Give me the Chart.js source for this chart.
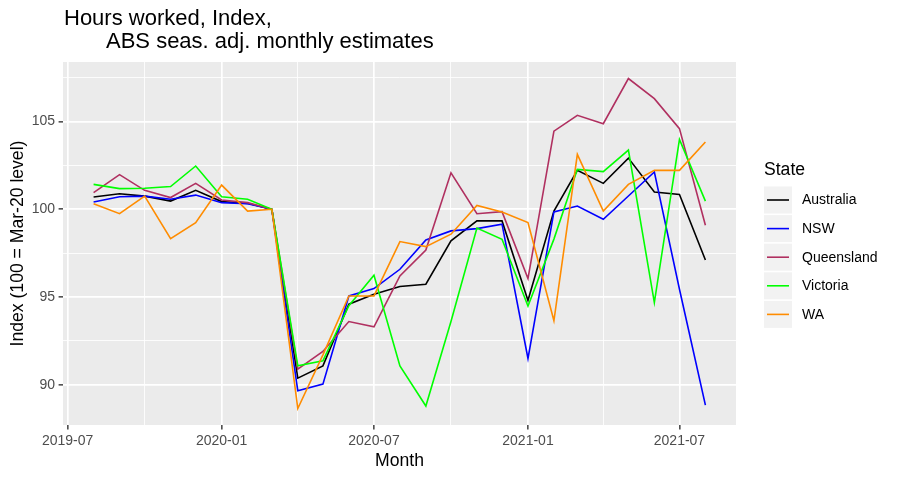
<!DOCTYPE html>
<html>
<head>
<meta charset="utf-8">
<script src="https://cdn.jsdelivr.net/npm/chart.js@4"></script>
<style>
  body { margin: 0; background: #fff; }
  #wrap { width: 899px; height: 479px; }
</style>
</head>
<body>
<div id="wrap"><canvas id="chart" width="899" height="479"></canvas></div>
<script>
// 月份（每月第一天）
const months = ['2019-08', '2019-09', '2019-10', '2019-11', '2019-12', '2020-01', '2020-02', '2020-03',
    '2020-04', '2020-05', '2020-06', '2020-07', '2020-08', '2020-09', '2020-10', '2020-11', '2020-12',
    '2021-01', '2021-02', '2021-03', '2021-04', '2021-05', '2021-06', '2021-07', '2021-08'];

// 各州指数 (100 = Mar-20)
const australia = [100.70, 100.89, 100.75, 100.47, 101.08, 100.44, 100.34, 100.00, 90.37, 91.07, 94.59, 95.16,
    95.60, 95.73, 98.20, 99.34, 99.34, 94.80, 99.90, 102.22, 101.48, 102.92, 100.99, 100.85, 97.11];
const nsw = [100.42, 100.72, 100.75, 100.57, 100.81, 100.38, 100.32, 100.00, 89.65, 90.03, 95.06, 95.48,
    96.58, 98.25, 98.77, 98.90, 99.15, 91.49, 99.85, 100.19, 99.43, 100.76, 102.13, 95.44, 88.83];
const queensland = [100.95, 101.98, 101.08, 100.67, 101.48, 100.53, 100.38, 100.00, 90.88, 91.89, 93.60, 93.30,
    96.20, 97.68, 102.08, 99.75, 99.87, 96.05, 104.46, 105.36, 104.88, 107.46, 106.31, 104.60, 99.09];
const victoria = [101.42, 101.18, 101.20, 101.30, 102.47, 100.72, 100.57, 100.00, 91.07, 91.36, 94.50, 96.24,
    91.07, 88.78, 93.60, 98.93, 98.29, 94.49, 98.30, 102.28, 102.15, 103.38, 94.68, 103.99, 100.47];
const wa = [100.32, 99.75, 100.75, 98.33, 99.24, 101.38, 99.90, 100.00, 88.64, 91.70, 95.06, 95.06,
    98.16, 97.87, 98.58, 100.22, 99.85, 99.24, 93.64, 103.13, 99.90, 101.42, 102.22, 102.22, 103.84];

const stateNames = ['Australia', 'NSW', 'Queensland', 'Victoria', 'WA'];
const stateColors = ['#000000', '#0000FF', '#B03060', '#00FF00', '#FF8C00'];

// 坐标轴刻度
const xTickLabels = ['2019-07', '2020-01', '2020-07', '2021-01', '2021-07'];
const yTickValues = [90, 95, 100, 105];

const FONT = "'Liberation Sans', Arial, Helvetica, sans-serif";

// 日期 -> 天数（以 2019-07-01 为原点）
function dayOf(ym) {
    const [y, m] = ym.split('-').map(Number);
    return (Date.UTC(y, m - 1, 1) - Date.UTC(2019, 6, 1)) / 86400000;
}

const xs = months.map(dayOf);
const xMajor = xTickLabels.map(dayOf);
const xMinor = [];
for (let i = 0; i < xMajor.length - 1; i++) xMinor.push((xMajor[i] + xMajor[i + 1]) / 2);
const yMinor = [yTickValues[0] - 2.5];
yTickValues.forEach(v => yMinor.push(v + 2.5));

// ggplot 风格的 5% 扩展
const allY = [].concat(australia, nsw, queensland, victoria, wa);
const yLo = Math.min(...allY), yHi = Math.max(...allY);
const xLo = Math.min(...xs), xHi = Math.max(...xs);
const yMin = yLo - (yHi - yLo) * 0.05, yMax = yHi + (yHi - yLo) * 0.05;
const xMin = xLo - (xHi - xLo) * 0.05, xMax = xHi + (xHi - xLo) * 0.05;

const series = [australia, nsw, queensland, victoria, wa];
const datasets = series.map((vals, i) => ({
    label: stateNames[i],
    data: vals.map((v, j) => ({ x: xs[j], y: v })),
    borderColor: stateColors[i],
    borderWidth: 1.6,
    pointRadius: 0,
    tension: 0,
    fill: false,
    order: series.length - 1 - i
}));

const isMajorX = v => xMajor.includes(v);
const isMajorY = v => yTickValues.includes(v);

// 面板背景、标题、图例
const ggPlugin = {
    id: 'ggStyle',
    beforeDraw(chart) {
        const { ctx, chartArea: a } = chart;
        ctx.save();
        ctx.fillStyle = '#ffffff';
        ctx.fillRect(0, 0, chart.width, chart.height);
        ctx.fillStyle = '#EBEBEB';
        ctx.fillRect(a.left, a.top, a.right - a.left, a.bottom - a.top);
        ctx.restore();
    },
    afterDraw(chart) {
        const { ctx } = chart;
        ctx.save();
        ctx.fillStyle = '#000';
        ctx.textBaseline = 'alphabetic';
        ctx.textAlign = 'left';
        ctx.font = '22px ' + FONT;
        ctx.fillText('Hours worked, Index,', 64, 25);
        ctx.fillText('ABS seas. adj. monthly estimates', 106, 48);

        // 图例
        ctx.font = '17.6px ' + FONT;
        ctx.fillText('State', 764, 175);
        ctx.font = '14px ' + FONT;
        ctx.textBaseline = 'middle';
        chart.data.datasets.forEach((ds, i) => {
            const cy = 200 + i * 28.6;
            ctx.fillStyle = '#F2F2F2';
            ctx.fillRect(764, cy - 13.5, 28, 27);
            ctx.strokeStyle = ds.borderColor;
            ctx.lineWidth = 1.6;
            ctx.beginPath();
            ctx.moveTo(767, cy);
            ctx.lineTo(789, cy);
            ctx.stroke();
            ctx.fillStyle = '#000';
            ctx.fillText(ds.label, 802, cy + 0.5);
        });
        ctx.restore();
    }
};

Chart.defaults.font.family = FONT;

new Chart(document.getElementById('chart').getContext('2d'), {
    type: 'line',
    data: { datasets: datasets },
    options: {
        responsive: false,
        animation: false,
        layout: { padding: { left: 0, right: 163, top: 62, bottom: 0 } },
        plugins: { legend: { display: false }, tooltip: { enabled: false }, title: { display: false } },
        scales: {
            x: {
                type: 'linear',
                min: xMin,
                max: xMax,
                afterFit: s => { s.height = 54; },
                afterBuildTicks: s => {
                    s.ticks = xMajor.concat(xMinor).sort((a, b) => a - b).map(v => ({ value: v }));
                },
                ticks: {
                    autoSkip: false,
                    maxRotation: 0,
                    padding: 3,
                    color: '#4D4D4D',
                    font: { size: 14 },
                    callback: v => {
                        const k = xMajor.indexOf(v);
                        return k >= 0 ? xTickLabels[k] : '';
                    }
                },
                grid: {
                    color: '#ffffff',
                    lineWidth: c => (c.tick && isMajorX(c.tick.value)) ? 1.7 : 0.85,
                    tickColor: c => (c.tick && isMajorX(c.tick.value)) ? '#333333' : 'rgba(0,0,0,0)',
                    tickWidth: 1.4,
                    tickLength: 4.4
                },
                border: { display: false },
                title: { display: true, text: 'Month', color: '#000', font: { size: 17.6 }, padding: { top: 0, bottom: 7 } }
            },
            y: {
                type: 'linear',
                min: yMin,
                max: yMax,
                afterFit: s => { s.width = 63; },
                afterBuildTicks: s => {
                    s.ticks = yTickValues.concat(yMinor).filter(v => v >= yMin && v <= yMax)
                        .sort((a, b) => a - b).map(v => ({ value: v }));
                },
                ticks: {
                    autoSkip: false,
                    padding: 3.5,
                    color: '#4D4D4D',
                    font: { size: 14 },
                    callback: v => isMajorY(v) ? String(v) : ''
                },
                grid: {
                    color: '#ffffff',
                    lineWidth: c => (c.tick && isMajorY(c.tick.value)) ? 1.7 : 0.85,
                    tickColor: c => (c.tick && isMajorY(c.tick.value)) ? '#333333' : 'rgba(0,0,0,0)',
                    tickWidth: 1.4,
                    tickLength: 4.4
                },
                border: { display: false },
                title: { display: true, text: 'Index (100 = Mar-20 level)', color: '#000', font: { size: 17.6 }, padding: { top: 8, bottom: 0 } }
            }
        }
    },
    plugins: [ggPlugin]
});
</script>
</body>
</html>
